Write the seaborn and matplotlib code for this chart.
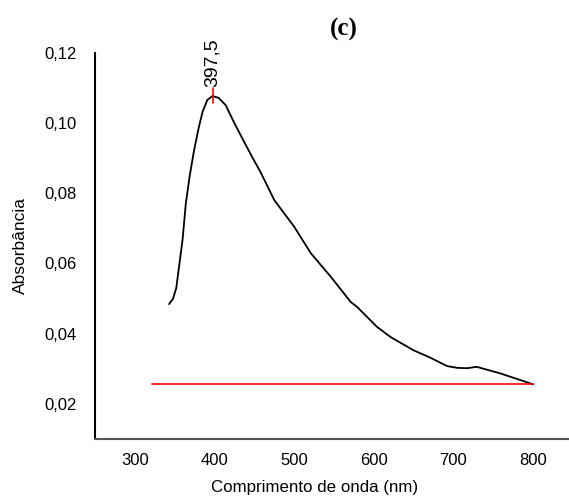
import numpy as np
import pandas as pd
import matplotlib
matplotlib.use('Agg')
import matplotlib.pyplot as plt
import seaborn as sns
from matplotlib.ticker import FuncFormatter

# spectrum
wavelength = [343, 348, 352, 356, 360, 364, 369, 374, 380, 385, 391, 397.5, 405, 414,
              424, 437, 447, 458, 475, 500, 521, 546, 571, 579, 604, 621, 650, 671,
              692, 705, 717, 729, 759, 800]
absorbance = [0.0484, 0.0500, 0.0530, 0.0600, 0.0670, 0.0772, 0.0852, 0.0919, 0.0986,
              0.1033, 0.1067, 0.1078, 0.1073, 0.1052, 0.1005, 0.0948, 0.0905, 0.0860,
              0.0781, 0.0705, 0.0629, 0.0562, 0.0490, 0.0476, 0.0419, 0.0390, 0.0352,
              0.0331, 0.0307, 0.0302, 0.0301, 0.0305, 0.0286, 0.0255]
baseline_x = [322, 800]
baseline_y = [0.0255, 0.0255]
peak_x = 397.5
peak_label = '397,5'

df = pd.DataFrame({'wl': wavelength, 'abs': absorbance})

sns.set_style('white', {'text.color': 'black', 'axes.labelcolor': 'black',
                        'xtick.color': 'black', 'ytick.color': 'black'})
plt.rcParams['font.family'] = ['Liberation Sans', 'DejaVu Sans']

fig = plt.figure(figsize=(5.69, 5.03), dpi=100)
ax = fig.add_axes([0.167, 0.128, 0.833, 0.766])

sns.lineplot(data=df, x='wl', y='abs', color='black', linewidth=1.3, ax=ax, sort=False)
sns.lineplot(x=baseline_x, y=baseline_y, color='red', linewidth=1.2, ax=ax)

# peak marker
ax.plot([peak_x, peak_x], [0.1058, 0.1101], color='red', linewidth=1.2)
ax.text(peak_x, 0.1104, peak_label, rotation=90, ha='center', va='bottom', fontsize=14)

ax.set_xlim(250, 845)
ax.set_ylim(0.01, 0.12)
ax.set_xticks([300, 400, 500, 600, 700, 800])
ax.set_yticks([0.02, 0.04, 0.06, 0.08, 0.10, 0.12])
ax.yaxis.set_major_formatter(FuncFormatter(lambda v, p: '{:.2f}'.format(v).replace('.', ',')))
ax.tick_params(axis='both', length=0, labelsize=12, labelcolor='black')
ax.tick_params(axis='y', pad=13)
ax.tick_params(axis='x', pad=10)

ax.set_xlabel('Comprimento de onda (nm)', fontsize=12.2, color='black')
ax.xaxis.set_label_coords(0.464, -0.128)
ax.xaxis.label.set_va('center')
ax.set_ylabel('Absorbância', fontsize=12.5, labelpad=12, color='black')

for s in ['top', 'right']:
    ax.spines[s].set_visible(False)
ax.spines['left'].set_color('black')
ax.spines['left'].set_linewidth(1.5)
ax.spines['bottom'].set_color('#555555')
ax.spines['bottom'].set_linewidth(1.5)

fig.text(0.605, 0.942, '(c)', family='Liberation Serif', weight='bold',
         fontsize=18, ha='center', va='center', color='black')

fig.savefig('out.png', dpi=100)
